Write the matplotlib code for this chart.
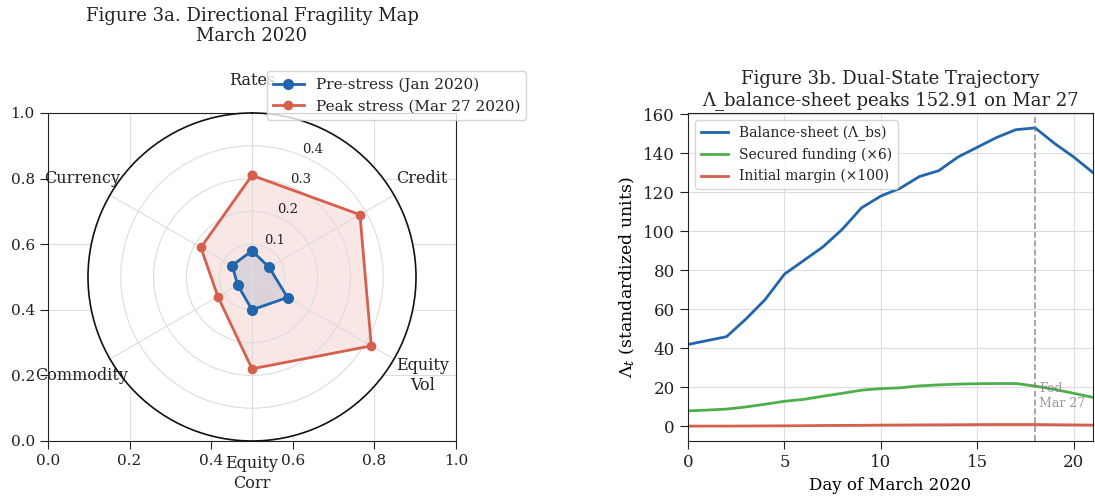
import numpy as np
import matplotlib
matplotlib.use("Agg")
import matplotlib.pyplot as plt

plt.rcParams["font.family"] = "DejaVu Serif"
plt.rcParams["mathtext.fontset"] = "dejavuserif"
plt.rcParams["axes.edgecolor"] = "#222222"
plt.rcParams["xtick.color"] = "#222222"
plt.rcParams["ytick.color"] = "#222222"
plt.rcParams["text.color"] = "#222222"
plt.rcParams["grid.color"] = "#dddddd"
plt.rcParams["grid.linewidth"] = 0.8

# radar data
axis_names = ["Rates", "Credit", "Equity\nVol", "Equity\nCorr", "Commodity", "Currency"]
pre_stress = [0.08, 0.06, 0.125, 0.10, 0.05, 0.07]
peak_stress = [0.31, 0.38, 0.42, 0.28, 0.12, 0.18]
r_ticks = [0.1, 0.2, 0.3, 0.4]

# trajectory data
days = list(range(22))
balance_sheet = [42, 44, 46, 55, 65, 78, 85, 92, 101, 112, 118, 122, 128, 131,
                 138, 143, 148, 152, 152.91, 145, 138, 130]
secured_funding = [8.0, 8.4, 8.9, 10.0, 11.4, 12.9, 13.9, 15.5, 17.0, 18.6, 19.4, 19.8,
                   20.8, 21.3, 21.7, 21.9, 22.0, 22.0, 20.7, 19.0, 17.0, 14.9]
initial_margin = [0.2, 0.2, 0.2, 0.25, 0.3, 0.35, 0.4, 0.5, 0.55, 0.6, 0.7, 0.75,
                  0.8, 0.85, 0.9, 0.95, 1.0, 1.0, 1.0, 0.9, 0.8, 0.7]
fed_day = 18

blue = "#2166ac"
red = "#d6604d"
green = "#4daf4a"

fig = plt.figure(figsize=(10.95, 5.04), dpi=100)

left_rect = [48 / 1095, 63 / 504, 408 / 1095, 328 / 504]
right_rect = [688 / 1095, 63 / 504, 405 / 1095, 328 / 504]

# cartesian axes underneath the polar one
ax0 = fig.add_axes(left_rect)
ax0.grid(True)
ax0.tick_params(labelsize=11, direction="out", length=6)
ax0.set_xlim(0, 1)
ax0.set_ylim(0, 1)

ax1 = fig.add_axes(left_rect, projection="polar")
angles = np.linspace(0, 2 * np.pi, len(axis_names), endpoint=False)
ang = np.concatenate([angles, angles[:1]])
pre = np.concatenate([pre_stress, pre_stress[:1]])
peak = np.concatenate([peak_stress, peak_stress[:1]])
ax1.set_theta_offset(np.pi / 2)
ax1.set_theta_direction(-1)
ax1.plot(ang, pre, "-o", color=blue, lw=2, ms=7, label="Pre-stress (Jan 2020)")
ax1.fill(ang, pre, color=blue, alpha=0.15)
ax1.plot(ang, peak, "-o", color=red, lw=2, ms=6, label="Peak stress (Mar 27 2020)")
ax1.fill(ang, peak, color=red, alpha=0.15)
ax1.set_xticks(angles)
ax1.set_xticklabels(axis_names, fontsize=11.5)
ax1.tick_params(axis="x", pad=13)
ax1.set_ylim(0, 0.5)
ax1.set_yticks(r_ticks)
ax1.set_yticklabels([str(t) for t in r_ticks], fontsize=9.5)
ax1.grid(True, color="#dddddd")
ax1.spines["polar"].set_color("#111111")
ax1.spines["polar"].set_linewidth(1.2)
ax1.set_title("Figure 3a. Directional Fragility Map\nMarch 2020", fontsize=13, pad=22)
ax1.legend(loc="upper right", bbox_to_anchor=(1.36, 1.15), fontsize=11)

# trajectory
ax2 = fig.add_axes(right_rect)
ax2.plot(days, balance_sheet, color=blue, lw=2, label="Balance-sheet (\u039b_bs)")
ax2.plot(days, secured_funding, color=green, lw=2, label="Secured funding (\u00d76)")
ax2.plot(days, initial_margin, color=red, lw=2, label="Initial margin (\u00d7100)")
ax2.axvline(fed_day, color="gray", ls="--", lw=1.2, alpha=0.8)
ax2.text(fed_day + 0.2, 10, "Fed\nMar 27", fontsize=9, color="gray", alpha=0.8)
ax2.set_xlim(0, 21)
ax2.grid(True)
ax2.tick_params(labelsize=12, direction="out", length=6)
ax2.set_xlabel("Day of March 2020", fontsize=12)
ax2.set_ylabel(r"$\Lambda_t$ (standardized units)", fontsize=12.5)
ax2.set_title("Figure 3b. Dual-State Trajectory\n\u039b_balance-sheet peaks 152.91 on Mar 27",
              fontsize=13)
ax2.legend(loc="upper left", fontsize=10)

fig.savefig("out.png", dpi=100)
